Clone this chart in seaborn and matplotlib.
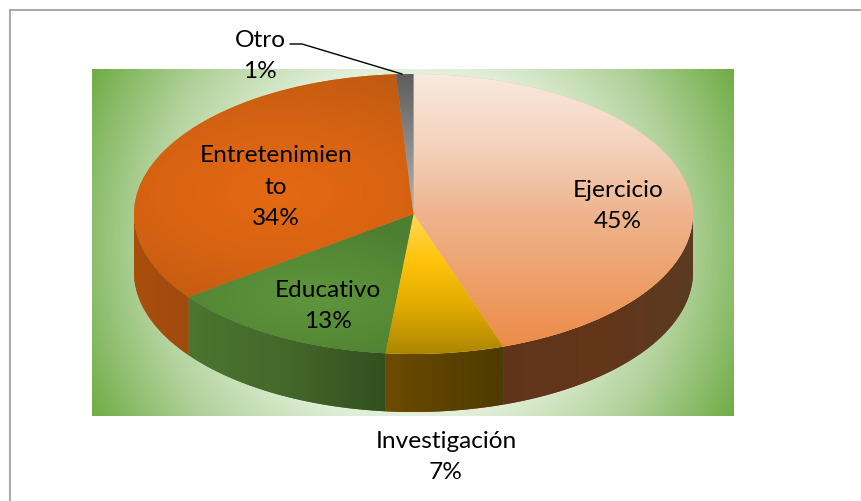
import numpy as np
import matplotlib
matplotlib.use("Agg")
import matplotlib.pyplot as plt
from matplotlib.patches import PathPatch
from matplotlib.path import Path
import seaborn as sns

categorias = ["Ejercicio", "Investigación", "Educativo", "Entretenimiento", "Otro"]
valores = [44.8, 6.8, 13.3, 34.1, 1.0]
etiquetas = ["Ejercicio", "Investigación", "Educativo", "Entretenimien\nto", "Otro"]

sns.set_theme(style="white")
plt.rcParams["font.family"] = ["Lato", "DejaVu Sans"]

W, H = 861, 502
fig = plt.figure(figsize=(W / 100, H / 100), dpi=100, facecolor="white")


def caja(x0, y0, x1, y1):
    # pixeles de la imagen (y hacia abajo) a fracciones de figura
    return [x0 / W, 1 - y1 / H, (x1 - x0) / W, (y1 - y0) / H]


# marco exterior
fig.add_artist(plt.Line2D([9.5 / W, 9.5 / W], [0, 1 - 10.5 / H], color="#ababab", lw=1.5))
fig.add_artist(plt.Line2D([9.5 / W, 1], [1 - 10.5 / H, 1 - 10.5 / H], color="#9a9a9a", lw=1.2))

# fondo verde con degradado radial
bg = fig.add_axes(caja(92, 70, 734, 417))
xx, yy = np.meshgrid(np.linspace(-321, 321, 321), np.linspace(-173.5, 173.5, 174))
cmap_bg = sns.blend_palette(["#ffffff", "#f4f9f1", "#e0eed7", "#b0d199", "#70ad47"], as_cmap=True)
r = np.hypot(xx, yy) / np.hypot(321, 173.5)
bg.imshow(r, cmap=cmap_bg, vmin=0, vmax=1, aspect="auto", interpolation="bilinear")
bg.axis("off")

# ejes a pantalla completa: radio 1 = elipse de 279.5 x 140 px
cx, cy, rx, ry = 413.5, 215, 279.5, 140
prof = 58 / ry
ax = fig.add_axes([0, 0, 1, 1])
ax.patch.set_alpha(0)
wedges, _ = ax.pie(
    valores,
    colors=["#efb48e", "#ffc30b", "#558a36", "#d9640f", "#8a8a8a"],
    startangle=90,
    counterclock=False,
    radius=1,
    wedgeprops={"linewidth": 0, "zorder": 3},
)
xlim = ((0 - cx) / rx, (W - cx) / rx)
ylim = ((cy - H) / ry, cy / ry)


def relleno(z, colores, extent, clip, zorder):
    cmap = sns.blend_palette(colores, n_colors=64, as_cmap=True)
    im = ax.imshow(z, cmap=cmap, vmin=0, vmax=1, extent=extent, origin="lower",
                   aspect="auto", interpolation="bilinear", zorder=zorder)
    im.set_clip_path(clip)


# paredes laterales, con los angulos que da cada sector
grid_x = np.linspace(-1, 1, 300)
grid_y = np.linspace(-1.0, 1.0, 300)
X, Y = np.meshgrid(grid_x, grid_y)
ext = (-1, 1, -1, 1)
paredes = [
    ["#5f3519", "#64361a", "#5a3b22"],
    ["#6e4b00", "#5c4200", "#4e3b00"],
    ["#4b7530", "#44682b", "#31501f"],
    ["#a94f0d", "#a04a0d"],
    ["#666666", "#666666"],
]
for w, cols in zip(wedges, paredes):
    t = np.radians(np.linspace(w.theta1, w.theta2, 200))
    t = t[np.sin(t) < 0]
    if len(t) == 0:
        continue
    arr = np.column_stack([np.cos(t), np.sin(t)])
    abajo = arr[::-1] - [0, prof]
    pts = np.vstack([arr, abajo, arr[:1]])
    pared = PathPatch(Path(pts), facecolor=cols[0], edgecolor="none", zorder=1)
    ax.add_patch(pared)
    x0, x1 = arr[:, 0].min(), arr[:, 0].max()
    z = np.linspace(0, 1, 100)[None, :]
    relleno(z, cols, (x0, x1, -1 - prof, 1), pared, 2)

# degradados de la cara superior
v = (1 - Y) / 2
ejer = v
inve = np.clip((0 - Y) / 1.0, 0, 1)
educ = np.clip(np.hypot((X + 0.37) / 0.6, (Y + 0.6) / 0.55), 0, 1)
entr = np.clip(np.hypot((X + 0.48) / 0.9, (Y - 0.15) / 0.95), 0, 1)
otro = np.clip((1 - Y), 0, 1)
caras = [
    (ejer, ["#f9e9df", "#f4d3bd", "#efb48e", "#ee9f68", "#ec8a46"]),
    (inve, ["#ffd75a", "#ffc30b", "#e0aa00", "#ad8600"]),
    (educ, ["#5e953c", "#578c37", "#4d7e31"]),
    (entr, ["#e46912", "#d86312", "#bf5a10"]),
    (otro, ["#5e5e5e", "#8a8a8a", "#b5b5b5"]),
]
for w, (z, cols) in zip(wedges, caras):
    relleno(z, cols, ext, w, 4)

ax.set_xlim(xlim)
ax.set_ylim(ylim)
ax.set_aspect("auto")
ax.axis("off")


def texto(px, py, s):
    fig.text(px / W, 1 - py / H, s, ha="center", va="center", fontsize=17.6,
             color="black", linespacing=1.64, zorder=10)


pos_texto = [(618, 206), (446, 457), (328, 306), (276, 187), (260, 56)]
for (px, py), et, val in zip(pos_texto, etiquetas, valores):
    texto(px, py, f"{et}\n{round(val)}%")

# linea guia de "Otro"
fig.add_artist(plt.Line2D(np.array([290, 302, 402]) / W,
                          1 - np.array([45, 45, 75]) / H, color="black", lw=1))

fig.savefig("out.png", dpi=100)
